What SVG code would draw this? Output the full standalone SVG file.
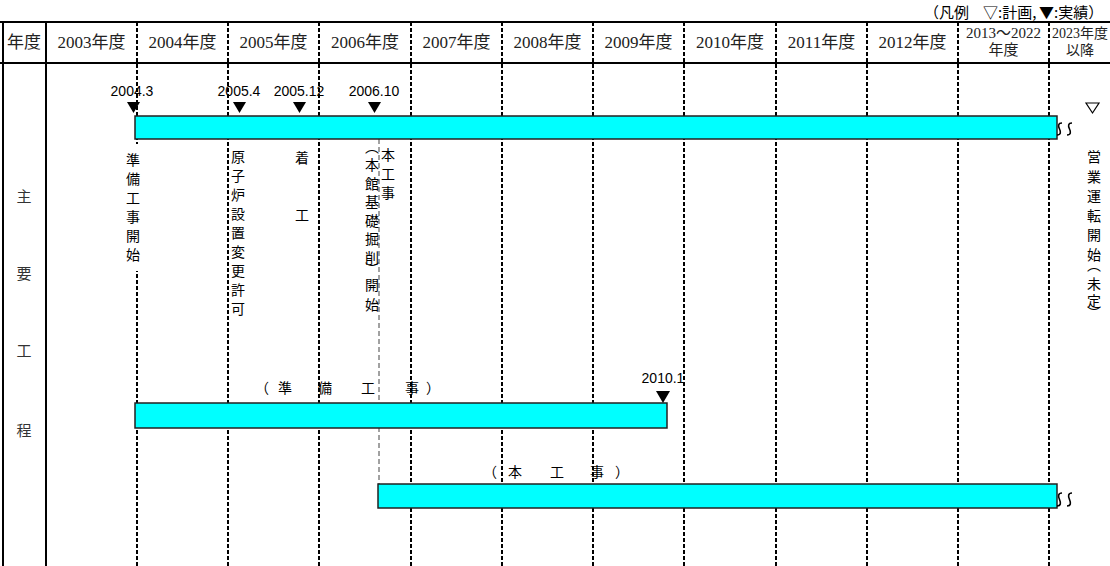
<svg xmlns="http://www.w3.org/2000/svg" width="1110" height="566" viewBox="0 0 1110 566">
<style>
.hd{font-family:"Liberation Serif","Noto Sans CJK JP",serif;font-size:17px;text-anchor:middle;fill:#222}
.hd2{font-family:"Liberation Serif","Noto Sans CJK JP",serif;font-size:15px;text-anchor:middle;fill:#222}
.hd3{font-family:"Liberation Serif","Noto Sans CJK JP",serif;font-size:14px;text-anchor:middle;fill:#222}
.lc{font-family:"Liberation Serif","Noto Sans CJK JP",serif;font-size:15px;text-anchor:middle;fill:#333}
.dt{font-family:"Liberation Sans","Noto Sans CJK JP",sans-serif;font-size:14px;text-anchor:middle;fill:#000}
.vt{font-family:"Noto Sans CJK JP",sans-serif;font-size:14px;fill:#000;writing-mode:vertical-rl}
.bl{font-family:"Noto Sans CJK JP",sans-serif;font-size:14px;text-anchor:middle;fill:#000}
.lg{font-family:"Noto Sans CJK JP",sans-serif;font-size:15px;fill:#000}
.grid{stroke:#000;stroke-width:2;stroke-dasharray:4 2;fill:none}
.solid{stroke:#000;stroke-width:2;fill:none}
.thin{stroke:#444;stroke-width:1;stroke-dasharray:5 3;fill:none}
.bar{fill:#00ffff;stroke:#222;stroke-width:1.5}
.tri{fill:#000}
.sq{stroke:#000;stroke-width:1.6;fill:none}
</style>
<rect width="1110" height="566" fill="#fff"/>

<g id="legend">
<text class="lg" y="18"><tspan x="924">（凡例</tspan><tspan x="983">▽:計画,</tspan><tspan x="1039">▼:実績）</tspan></text>
</g>

<g id="header">
<text class="hd" x="24" y="48">年度</text>
<text class="hd" x="91.5" y="48">2003年度</text>
<text class="hd" x="182.5" y="48">2004年度</text>
<text class="hd" x="273.5" y="48">2005年度</text>
<text class="hd" x="365" y="48">2006年度</text>
<text class="hd" x="456.5" y="48">2007年度</text>
<text class="hd" x="547.5" y="48">2008年度</text>
<text class="hd" x="638.5" y="48">2009年度</text>
<text class="hd" x="730" y="48">2010年度</text>
<text class="hd" x="821.5" y="48">2011年度</text>
<text class="hd" x="912.5" y="48">2012年度</text>
<text class="hd2" x="1003.5" y="38">2013～2022</text>
<text class="hd2" x="1003.5" y="55">年度</text>
<text class="hd3" x="1080" y="38">2023年度</text>
<text class="hd3" x="1080" y="55">以降</text>
</g>

<g id="row-label">
<text class="lc" x="24" y="202">主</text>
<text class="lc" x="24" y="279">要</text>
<text class="lc" x="24" y="356">工</text>
<text class="lc" x="24" y="436">程</text>
</g>

<g id="date-labels">
<text class="dt" x="132" y="96">2004.3</text>
<text class="dt" x="239" y="96">2005.4</text>
<text class="dt" x="299" y="96">2005.12</text>
<text class="dt" x="374" y="96">2006.10</text>
<text class="dt" x="663" y="383">2010.1</text>
</g>

<g id="bar-labels">
<text class="bl" x="262 285 325 368 412 433" y="393">（準備工事）</text>
<text class="bl" x="490 515 557 597 622" y="477">（本工事）</text>
</g>

<g id="connectors">
<line class="solid" x1="0" y1="22" x2="1110" y2="22"/>
<line class="solid" x1="0" y1="63" x2="1110" y2="63"/>
<line class="solid" x1="3" y1="22" x2="3" y2="566"/>
<line class="solid" x1="46" y1="22" x2="46" y2="566"/>
<line class="grid" x1="137" y1="22" x2="137" y2="566"/>
<line class="grid" x1="228" y1="22" x2="228" y2="566"/>
<line class="grid" x1="319" y1="22" x2="319" y2="566"/>
<line class="grid" x1="411" y1="22" x2="411" y2="566"/>
<line class="grid" x1="502" y1="22" x2="502" y2="566"/>
<line class="grid" x1="593" y1="22" x2="593" y2="566"/>
<line class="grid" x1="684" y1="22" x2="684" y2="566"/>
<line class="grid" x1="776" y1="22" x2="776" y2="566"/>
<line class="grid" x1="867" y1="22" x2="867" y2="566"/>
<line class="grid" x1="958" y1="22" x2="958" y2="566"/>
<line class="grid" x1="1049" y1="22" x2="1049" y2="566"/>
<line class="thin" x1="379" y1="139" x2="379" y2="484"/>
</g>

<g id="milestone-texts">
<rect x="125" y="144" width="17" height="127" fill="#fff"/>
<text class="vt" x="133" y="153" letter-spacing="5">準備工事開始</text>
<text class="vt" x="238" y="150" letter-spacing="5">原子炉設置変更許可</text>
<text class="vt" x="302" y="151" letter-spacing="5">着　　工</text>
<text class="vt" x="388" y="148" letter-spacing="5">本工事</text>
<text class="vt" x="372" y="140 158 176.5 195 213.5 232 250.5 262 278 298">（本館基礎掘削）開始</text>
<text class="vt" x="1094" y="150 169.5 189 208.5 228 247.5 258 277 294 306">営業運転開始（未定）</text>
</g>

<g id="bars">
<rect class="bar" x="135" y="116" width="922" height="23"/>
<rect class="bar" x="135" y="403" width="532" height="25"/>
<rect class="bar" x="378" y="484" width="679" height="24"/>
<path class="sq" d="M1062,123 C1058,123 1058,126 1059.5,129 C1061,132 1061,135 1057,135 M1072,123 C1068,123 1068,126 1069.5,129 C1071,132 1071,135 1067,135"/>
<path class="sq" d="M1062,493 C1058,493 1058,496 1059.5,499.5 C1061,503 1061,506 1057,506 M1072,493 C1068,493 1068,496 1069.5,499.5 C1071,503 1071,506 1067,506"/>
</g>

<g id="markers">
<path class="tri" d="M127,102 L140,102 L133.5,113 Z"/>
<path class="tri" d="M233,102 L246,102 L239.5,113 Z"/>
<path class="tri" d="M293,102 L306,102 L299.5,113 Z"/>
<path class="tri" d="M368,102 L381,102 L374.5,113 Z"/>
<path class="tri" d="M656,391 L670,391 L663,403 Z"/>
<path d="M1086,103 L1099,103 L1092.5,113 Z" fill="none" stroke="#000" stroke-width="1.2"/>
</g>
</svg>
